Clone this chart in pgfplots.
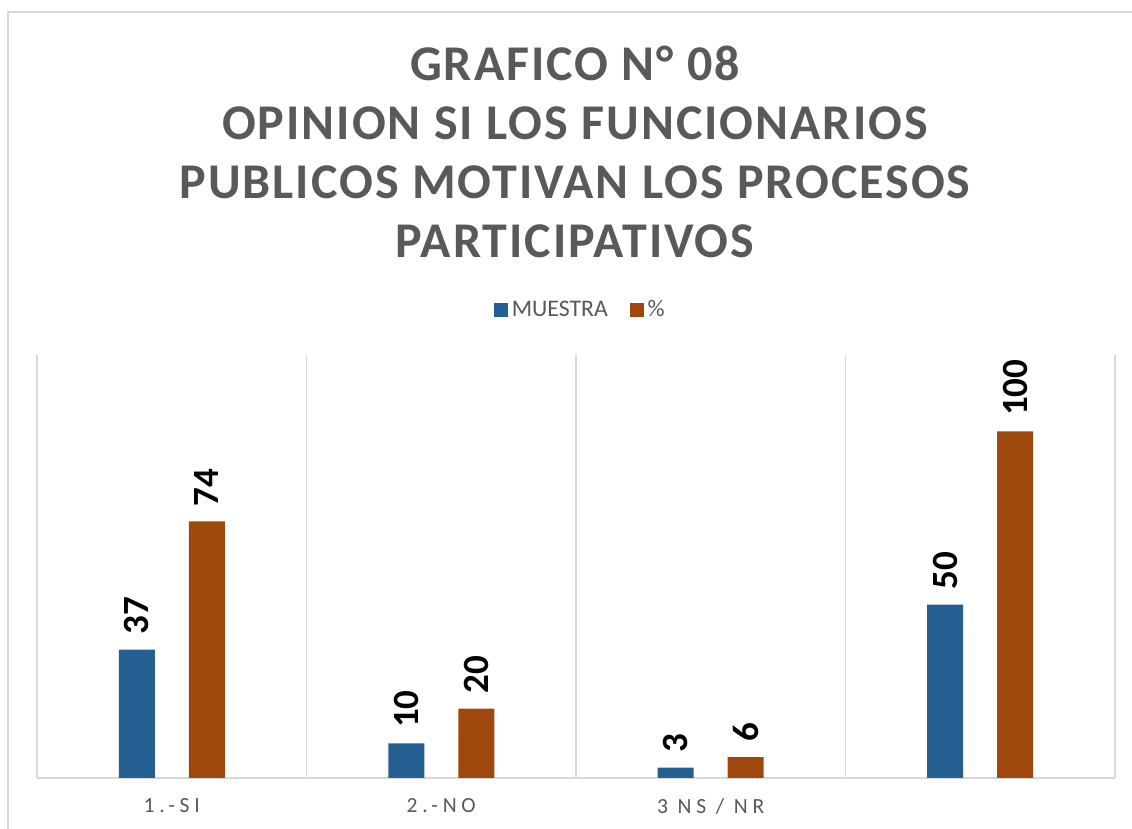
\documentclass[border=0pt]{standalone}
\usepackage{pgfplots}
\pgfplotsset{compat=1.18}
\usepackage{fontspec}
\setmainfont{Carlito}
\newfontfamily\titlefont[LetterSpace=4]{Carlito}
\newfontfamily\tickfont[LetterSpace=22]{Carlito}
\definecolor{cblue}{HTML}{255E91}
\definecolor{corange}{HTML}{9E480E}
\definecolor{cgrey}{HTML}{595959}
\definecolor{cgrid}{HTML}{D9D9D9}
\begin{document}
\begin{tikzpicture}[x=1pt,y=1pt]
\path[use as bounding box] (0,0) rectangle (566,414.5);
\draw[cgrid, line width=0.75pt] (4,0) -- (4,408.5) -- (566,408.5);
\node[align=center, font=\titlefont\bfseries\fontsize{25}{29.5}\selectfont, text=cgrey] at (287.5,338.75)
  {GRAFICO N° 08\\OPINION SI LOS FUNCIONARIOS\\PUBLICOS MOTIVAN LOS PROCESOS\\PARTICIPATIVOS};
\begin{axis}[at={(18.5pt,25.5pt)}, anchor=south west, scale only axis,
  width=539pt, height=211.5pt,
  ybar=17pt, bar width=18pt,
  xmin=-0.5, xmax=3.5, ymin=0, ymax=122,
  axis x line=bottom, axis y line=none,
  axis line style={draw=cgrid, line width=0.75pt, -},
  xtick={0,1,2,3}, xticklabels={1.-SI,2.-NO,3 NS / NR,{}},
  major tick length=0pt, minor tick length=0pt,
  minor xtick={-0.5,0.5,1.5,2.5,3.5},
  xminorgrids=true, minor grid style={draw=cgrid, line width=0.75pt},
  ytick=\empty,
  xticklabel style={font=\tickfont\fontsize{10.8}{13}\selectfont, text=cgrey, yshift=-6.5pt},
  nodes near coords,
  nodes near coords style={rotate=90, anchor=west, font=\bfseries\fontsize{18.5}{20}\selectfont, text=black, inner sep=7.5pt,
    /pgf/number format/assume math mode=true},
  clip=false,
  legend style={at={(0.505,1.106)}, anchor=center, draw=none, legend columns=-1,
    font=\fontsize{11.9}{13}\selectfont, text=cgrey,
    /tikz/every even column/.append style={column sep=9pt}},
  legend image code/.code={\fill[#1] (0pt,-3.4pt) rectangle (6.8pt,3.4pt);},
]
\addplot[fill=cblue, draw=none] coordinates {(0,37) (1,10) (2,3) (3,50)};
\addplot[fill=corange, draw=none] coordinates {(0,74) (1,20) (2,6) (3,100)};
\legend{MUESTRA,\%}
\end{axis}
\end{tikzpicture}
\end{document}
